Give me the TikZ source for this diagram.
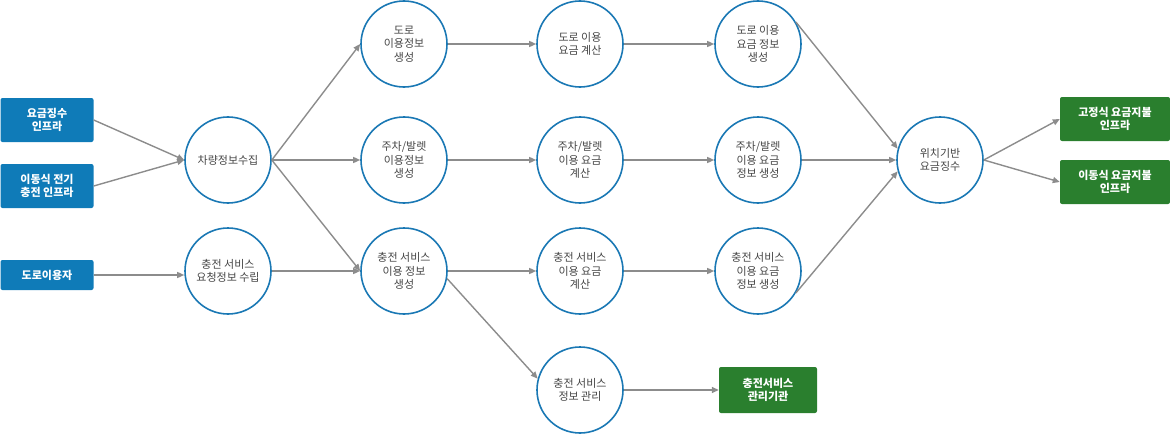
\documentclass[tikz,border=0pt]{standalone}
\usepackage{fontspec}
\setmainfont{Noto Sans CJK KR}
\definecolor{RoadBlue}{HTML}{0F7BB8}
\definecolor{RingBlue}{HTML}{1A78B4}
\definecolor{PayGreen}{HTML}{2A7F2E}
\definecolor{LineGray}{HTML}{8C8C8C}
\definecolor{TextGray}{HTML}{444444}
\usetikzlibrary{positioning,arrows.meta}

\begin{document}
\begin{tikzpicture}[x=1pt, y=-1pt,
        step node/.style={circle, draw=RingBlue, line width=1.6pt, minimum size=86pt, inner sep=0pt, align=center, text=TextGray, font=\fontsize{11}{13.5}\selectfont},
        src/.style={rectangle, rounded corners=2pt, fill=RoadBlue, text=white, align=center, minimum width=93pt, inner sep=3pt, font=\bfseries\fontsize{11}{13}\selectfont},
        sink/.style={src, fill=PayGreen, minimum width=110pt},
        arrow/.style={-{Triangle[length=7pt,width=6pt]}, LineGray, line width=1.4pt}]
        \useasboundingbox (0,0) rectangle (1170,436);

        % sources
        \node[src, minimum height=44pt] (infra) at (47,120) {요금징수\\인프라};
        \node[src, minimum height=44pt] (mobile) at (47,186) {이동식 전기\\충전 인프라};
        \node[src, minimum height=30pt] (user) at (47,275) {도로이용자};

        % first column
        \node[step node] (collect) at (228,160) {차량정보수집};
        \node[step node] (request) at (228,271) {충전 서비스\\요청정보 수립};

        % second column
        \node[step node] (roadinfo) at (404,44) {도로\\이용정보\\생성};
        \node[step node] (parkinfo) at (404,160) {주차/발렛\\이용정보\\생성};
        \node[step node] (chginfo) at (404,271) {충전 서비스\\이용 정보\\생성};

        % third column
        \node[step node] (roadcalc) at (580,44) {도로 이용\\요금 계산};
        \node[step node] (parkcalc) at (580,160) {주차/발렛\\이용 요금\\계산};
        \node[step node] (chgcalc) at (580,271) {충전 서비스\\이용 요금\\계산};
        \node[step node] (chgmgmt) at (580,390) {충전 서비스\\정보 관리};

        % fourth column
        \node[step node] (roadfee) at (758,44) {도로 이용\\요금 정보\\생성};
        \node[step node] (parkfee) at (758,160) {주차/발렛\\이용 요금\\정보 생성};
        \node[step node] (chgfee) at (758,271) {충전 서비스\\이용 요금\\정보 생성};

        \node[step node] (locpay) at (940,160) {위치기반\\요금징수};

        % sinks
        \node[sink, minimum height=44pt] (fixed) at (1115,119) {고정식 요금지불\\인프라};
        \node[sink, minimum height=44pt] (mobpay) at (1115,182) {이동식 요금지불\\인프라};
        \node[sink, minimum height=46pt, minimum width=98pt] (agency) at (768,390) {충전서비스\\관리기관};

        \draw[arrow] (infra.east) -- (collect.west);
        \draw[arrow] (mobile.east) -- (collect.west);
        \draw[arrow] (user) -- (user -| request.west);
        \draw[arrow] (collect.east) -- (roadinfo.west);
        \draw[arrow] (collect.east) -- (parkinfo.west);
        \draw[arrow] (collect.east) -- (chginfo.west);
        \draw[arrow] (request.east) -- (chginfo.west);
        \draw[arrow] (roadinfo) -- (roadcalc);
        \draw[arrow] (parkinfo) -- (parkcalc);
        \draw[arrow] (chginfo) -- (chgcalc);
        \draw[arrow] (chginfo.-10) -- (chgmgmt.165);
        \draw[arrow] (roadcalc) -- (roadfee);
        \draw[arrow] (parkcalc) -- (parkfee);
        \draw[arrow] (chgcalc) -- (chgfee);
        \draw[arrow] (chgmgmt) -- (agency);
        \draw[arrow] (roadfee.30) -- (locpay.165);
        \draw[arrow] (parkfee) -- (locpay);
        \draw[arrow] (chgfee.-30) -- (locpay.195);
        \draw[arrow] (locpay.east) -- (fixed.west);
        \draw[arrow] (locpay.east) -- (mobpay.west);
    \end{tikzpicture}
\end{document}
